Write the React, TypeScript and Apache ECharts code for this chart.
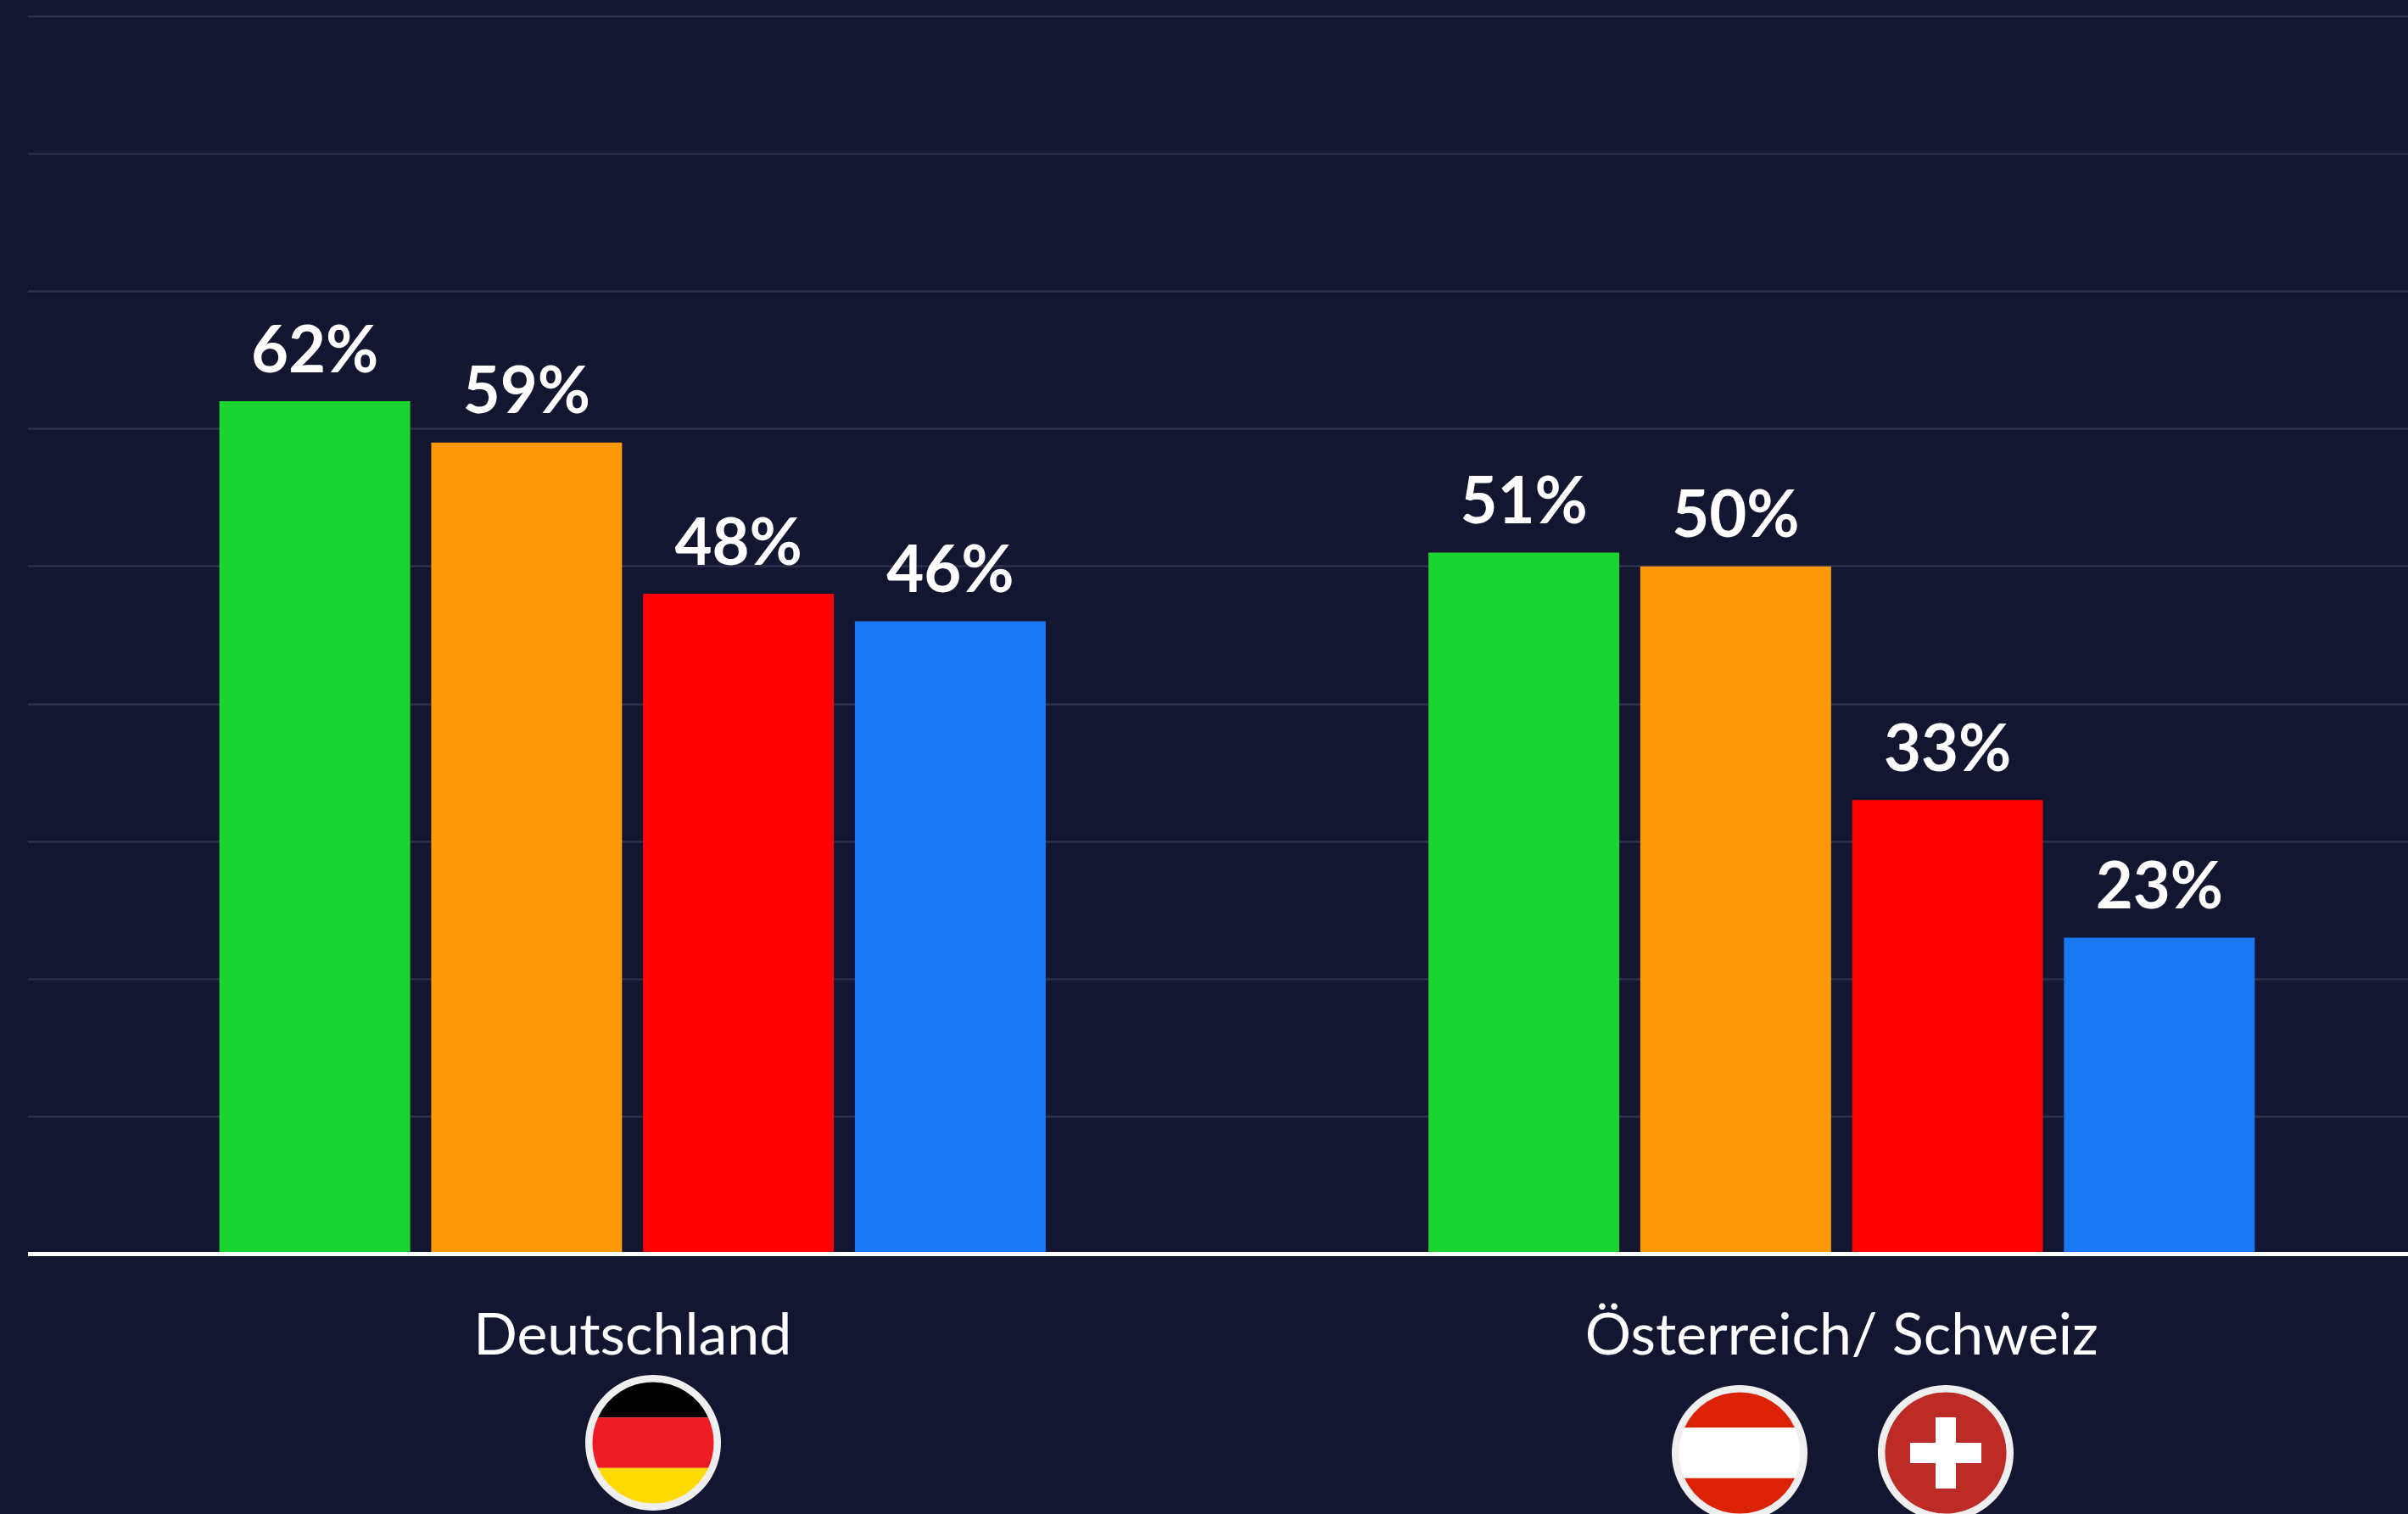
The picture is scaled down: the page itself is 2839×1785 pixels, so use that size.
import React, { useEffect, useRef } from "react";
import * as echarts from "echarts";

const categories = ["Deutschland", "Österreich/ Schweiz"];
const greenValues = [62, 51];
const orangeValues = [59, 50];
const redValues = [48, 33];
const blueValues = [46, 23];
const seriesColors = ["#1AD531", "#FF9908", "#FF0000", "#1A78F5"];

echarts.graphic.registerShape(
  "flagCapTop",
  echarts.graphic.extendPath("M -90.9 -41.7 A 100 100 0 0 1 90.9 -41.7 Z", {})
);
echarts.graphic.registerShape(
  "flagCapBottom",
  echarts.graphic.extendPath("M 90.9 41.7 A 100 100 0 0 1 -90.9 41.7 Z", {})
);
echarts.graphic.registerShape(
  "flagBand",
  echarts.graphic.extendPath(
    "M -90.9 -41.7 L 90.9 -41.7 A 100 100 0 0 1 90.9 41.7 L -90.9 41.7 A 100 100 0 0 1 -90.9 -41.7 Z",
    {}
  )
);

const ring = (x: number, y: number) => ({
  type: "circle",
  shape: { cx: x, cy: y, r: 80 },
  style: { fill: "#EFEFEF" },
});
const part = (type: string, x: number, y: number, fill: string) => ({
  type,
  x,
  y,
  scaleX: 0.715,
  scaleY: 0.715,
  style: { fill },
});

const flagElements = [
  ring(770, 1701),
  part("flagCapTop", 770, 1701, "#000000"),
  part("flagBand", 770, 1701, "#EE1C25"),
  part("flagCapBottom", 770, 1701, "#FFD900"),
  ring(2051, 1713),
  part("flagCapTop", 2051, 1713, "#DB2204"),
  part("flagBand", 2051, 1713, "#FFFFFF"),
  part("flagCapBottom", 2051, 1713, "#DB2204"),
  ring(2294, 1713),
  { type: "circle", shape: { cx: 2294, cy: 1713, r: 71.5 }, style: { fill: "#BD2B27" } },
  { type: "rect", shape: { x: 2282, y: 1671, width: 24, height: 84 }, style: { fill: "#FFFFFF" } },
  { type: "rect", shape: { x: 2252, y: 1701, width: 84, height: 24 }, style: { fill: "#FFFFFF" } },
];

const barSeries = (name: string, data: number[], color: string) => ({
  name,
  type: "bar",
  data,
  barWidth: 225,
  barGap: "11%",
  itemStyle: { color },
  label: {
    show: true,
    position: "top",
    distance: 26,
    formatter: "{c}%",
    color: "#FFFFFF",
    fontFamily: "Lato",
    fontWeight: "bold",
    fontSize: 76,
  },
});

export default function App() {
  const ref = useRef<HTMLDivElement>(null);
  useEffect(() => {
    const chart = echarts.init(ref.current!, null, { renderer: "svg" });
    chart.setOption({
      animation: false,
      backgroundColor: "#121631",
      grid: { left: 33, top: 19, width: 2851, height: 1459.5 },
      xAxis: {
        type: "category",
        data: categories,
        z: 5,
        axisLine: { lineStyle: { color: "#FFFFFF", width: 5, cap: "butt" } },
        axisTick: { show: false },
        axisLabel: {
          color: "#FFFFFF",
          fontFamily: "Lato",
          fontSize: 68,
          margin: 58,
        },
      },
      yAxis: {
        type: "value",
        min: 0,
        max: 90,
        interval: 10,
        axisLine: { show: false },
        axisTick: { show: false },
        axisLabel: { show: false },
        splitLine: { lineStyle: { color: "#2F304B", width: 2.5 } },
      },
      series: [
        barSeries("Grün", greenValues, seriesColors[0]),
        barSeries("Orange", orangeValues, seriesColors[1]),
        barSeries("Rot", redValues, seriesColors[2]),
        barSeries("Blau", blueValues, seriesColors[3]),
      ],
      graphic: { elements: flagElements },
    });
    return () => chart.dispose();
  }, []);
  return (
    <div style={{ position: "fixed", left: 0, top: 0, width: 2839, height: 1785, overflow: "hidden" }}>
      <div ref={ref} style={{ width: 2900, height: 1785 }} />
    </div>
  );
}
